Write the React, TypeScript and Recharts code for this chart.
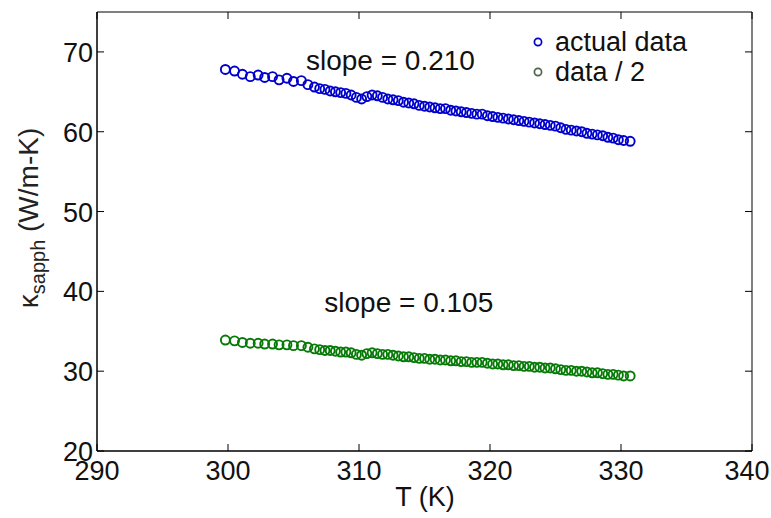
import React from "react";
import {
  ScatterChart,
  Scatter,
  XAxis,
  YAxis,
  ReferenceDot,
  ReferenceArea,
  Label,
} from "recharts";

// temperatures (K), shared by both series
const temps = [
  299.8, 300.5, 301.1, 301.7, 302.3, 302.8, 303.4, 303.9, 304.5, 305.0,
  305.6, 306.1, 306.6, 307.0, 307.4, 307.8, 308.2, 308.6, 309.0, 309.4,
  309.8, 310.2, 310.6, 311.0, 311.4, 311.8, 312.2, 312.6, 313.0, 313.4,
  313.8, 314.2, 314.6, 315.0, 315.4, 315.8, 316.2, 316.6, 317.0, 317.4,
  317.8, 318.2, 318.6, 319.0, 319.4, 319.8, 320.2, 320.6, 321.0, 321.4,
  321.8, 322.2, 322.6, 323.0, 323.4, 323.8, 324.2, 324.6, 325.0, 325.4,
  325.8, 326.2, 326.6, 327.0, 327.4, 327.8, 328.2, 328.6, 329.0, 329.4,
  329.8, 330.2, 330.7,
];

// kappa, measured
const actualData = [
  67.8, 67.6, 67.2, 66.9, 67.1, 66.8, 66.9, 66.5, 66.7, 66.3,
  66.4, 65.9, 65.6, 65.4, 65.3, 65.1, 65.0, 64.9, 64.8, 64.6,
  64.3, 64.1, 64.4, 64.6, 64.5, 64.3, 64.1, 64.0, 63.9, 63.7,
  63.6, 63.5, 63.3, 63.2, 63.1, 63.0, 62.9, 62.9, 62.7, 62.6,
  62.5, 62.4, 62.3, 62.2, 62.2, 62.0, 61.9, 61.8, 61.7, 61.6,
  61.5, 61.4, 61.3, 61.2, 61.1, 61.0, 60.9, 60.8, 60.7, 60.5,
  60.3, 60.2, 60.1, 60.0, 59.8, 59.7, 59.6, 59.5, 59.3, 59.2,
  59.0, 58.9, 58.8,
];

// kappa, halved
const halfData = [
  33.9, 33.8, 33.6, 33.5, 33.5, 33.4, 33.4, 33.3, 33.3, 33.2,
  33.2, 33.0, 32.8, 32.7, 32.6, 32.6, 32.5, 32.4, 32.4, 32.3,
  32.1, 32.0, 32.2, 32.3, 32.2, 32.1, 32.1, 32.0, 31.9, 31.8,
  31.8, 31.7, 31.6, 31.6, 31.5, 31.5, 31.4, 31.4, 31.3, 31.3,
  31.2, 31.2, 31.1, 31.1, 31.1, 31.0, 30.9, 30.9, 30.8, 30.8,
  30.7, 30.7, 30.6, 30.6, 30.5, 30.5, 30.4, 30.4, 30.3, 30.2,
  30.1, 30.1, 30.0, 30.0, 29.9, 29.8, 29.8, 29.7, 29.6, 29.6,
  29.5, 29.4, 29.4,
];

const xTicks = [290, 300, 310, 320, 330, 340];
const yTicks = [20, 30, 40, 50, 60, 70];

const BLUE = "#0000cc";
const GREEN = "#067a06";
const FONT = "'Liberation Sans', Arial, sans-serif";
const TICK = 7;

const blueSet = temps.map((t, i) => ({ t, k: actualData[i] }));
const greenSet = temps.map((t, i) => ({ t, k: halfData[i] }));

const ring = (color: string) => (p: any) => (
  <circle cx={p.cx} cy={p.cy} r={4.5} fill="none" stroke={color} strokeWidth={1.9} />
);

// matlab-style ticks: pointing inward, labels only on bottom/left
const BottomTick = ({ x, y, payload }: any) => {
  // last label would run past the right edge
  const lx = payload.value === 340 ? x - 5 : x;
  return (
    <g>
      <line x1={x} x2={x} y1={y} y2={y - TICK} stroke="#000" />
      <line x1={x} x2={x} y1={12} y2={12 + TICK} stroke="#000" />
      <text x={lx} y={y + 29} textAnchor="middle" fontSize={27} fontFamily={FONT} fill="#111">
        {payload.value}
      </text>
    </g>
  );
};
const LeftTick = ({ x, y, payload }: any) => (
  <g>
    <line x1={x} x2={x + TICK} y1={y} y2={y} stroke="#000" />
    <line x1={752} x2={752 - TICK} y1={y} y2={y} stroke="#000" />
    <text x={x - 4} y={y + 10} textAnchor="end" fontSize={27} fontFamily={FONT} fill="#111">
      {payload.value}
    </text>
  </g>
);

const YTitle = () => (
  <text
    transform="translate(38,218) rotate(-90)"
    textAnchor="middle"
    fontSize={28}
    fontFamily={FONT}
    fill="#222"
  >
    <tspan>κ</tspan>
    <tspan fontSize={20} dy={7}>sapph</tspan>
    <tspan dy={-7}> (W/m-K)</tspan>
  </text>
);

const XTitle = () => (
  <text x={425} y={506} textAnchor="middle" fontSize={27} fontFamily={FONT} fill="#111">
    T (K)
  </text>
);

export default function App() {
  return (
    <div style={{ position: "absolute", left: 0, top: 0, width: 771, height: 518, background: "#fff" }}>
      <ScatterChart width={771} height={518} margin={{ top: 12, right: 19, bottom: 0, left: 0 }}>
        <XAxis
          dataKey="t"
          type="number"
          domain={[290, 340]}
          ticks={xTicks}
          height={67}
          tickSize={0}
          tickMargin={0}
          tickLine={false}
          tick={<BottomTick />}
          axisLine={{ stroke: "#000" }}
          interval={0}
        >
          <Label content={<XTitle />} />
        </XAxis>
        <YAxis
          dataKey="k"
          type="number"
          domain={[20, 75]}
          ticks={yTicks}
          width={97}
          tickSize={0}
          tickMargin={0}
          tickLine={false}
          tick={<LeftTick />}
          axisLine={{ stroke: "#000" }}
          interval={0}
        >
          <Label content={<YTitle />} />
        </YAxis>
        {/* box around the axes */}
        <ReferenceArea
          x1={290}
          x2={340}
          y1={20}
          y2={75}
          fill="none"
          fillOpacity={0}
          stroke="#000"
          strokeWidth={1}
          ifOverflow="visible"
        />
        <Scatter data={blueSet} shape={ring(BLUE)} isAnimationActive={false} />
        <Scatter data={greenSet} shape={ring(GREEN)} isAnimationActive={false} />
        <ReferenceDot
          x={312.4}
          y={69.0}
          r={0}
          fill="none"
          stroke="none"
          label={{ value: "slope = 0.210", position: "center", fontSize: 28, fontFamily: FONT, fill: "#111" }}
        />
        <ReferenceDot
          x={313.8}
          y={38.6}
          r={0}
          fill="none"
          stroke="none"
          label={{ value: "slope = 0.105", position: "center", fontSize: 28, fontFamily: FONT, fill: "#111" }}
        />
      </ScatterChart>
      <div
        style={{
          position: "absolute",
          left: 530,
          top: 27,
          fontFamily: FONT,
          fontSize: 27,
          lineHeight: "30px",
          color: "#111",
        }}
      >
        {[
          { name: "actual data", color: BLUE },
          { name: "data / 2", color: "#4f634f" },
        ].map((it) => (
          <div key={it.name} style={{ display: "flex", alignItems: "center", whiteSpace: "nowrap" }}>
            <svg width={20} height={16} style={{ marginRight: 5 }}>
              <circle cx={8} cy={8} r={3.6} fill="none" stroke={it.color} strokeWidth={1.7} />
            </svg>
            {it.name}
          </div>
        ))}
      </div>
    </div>
  );
}
